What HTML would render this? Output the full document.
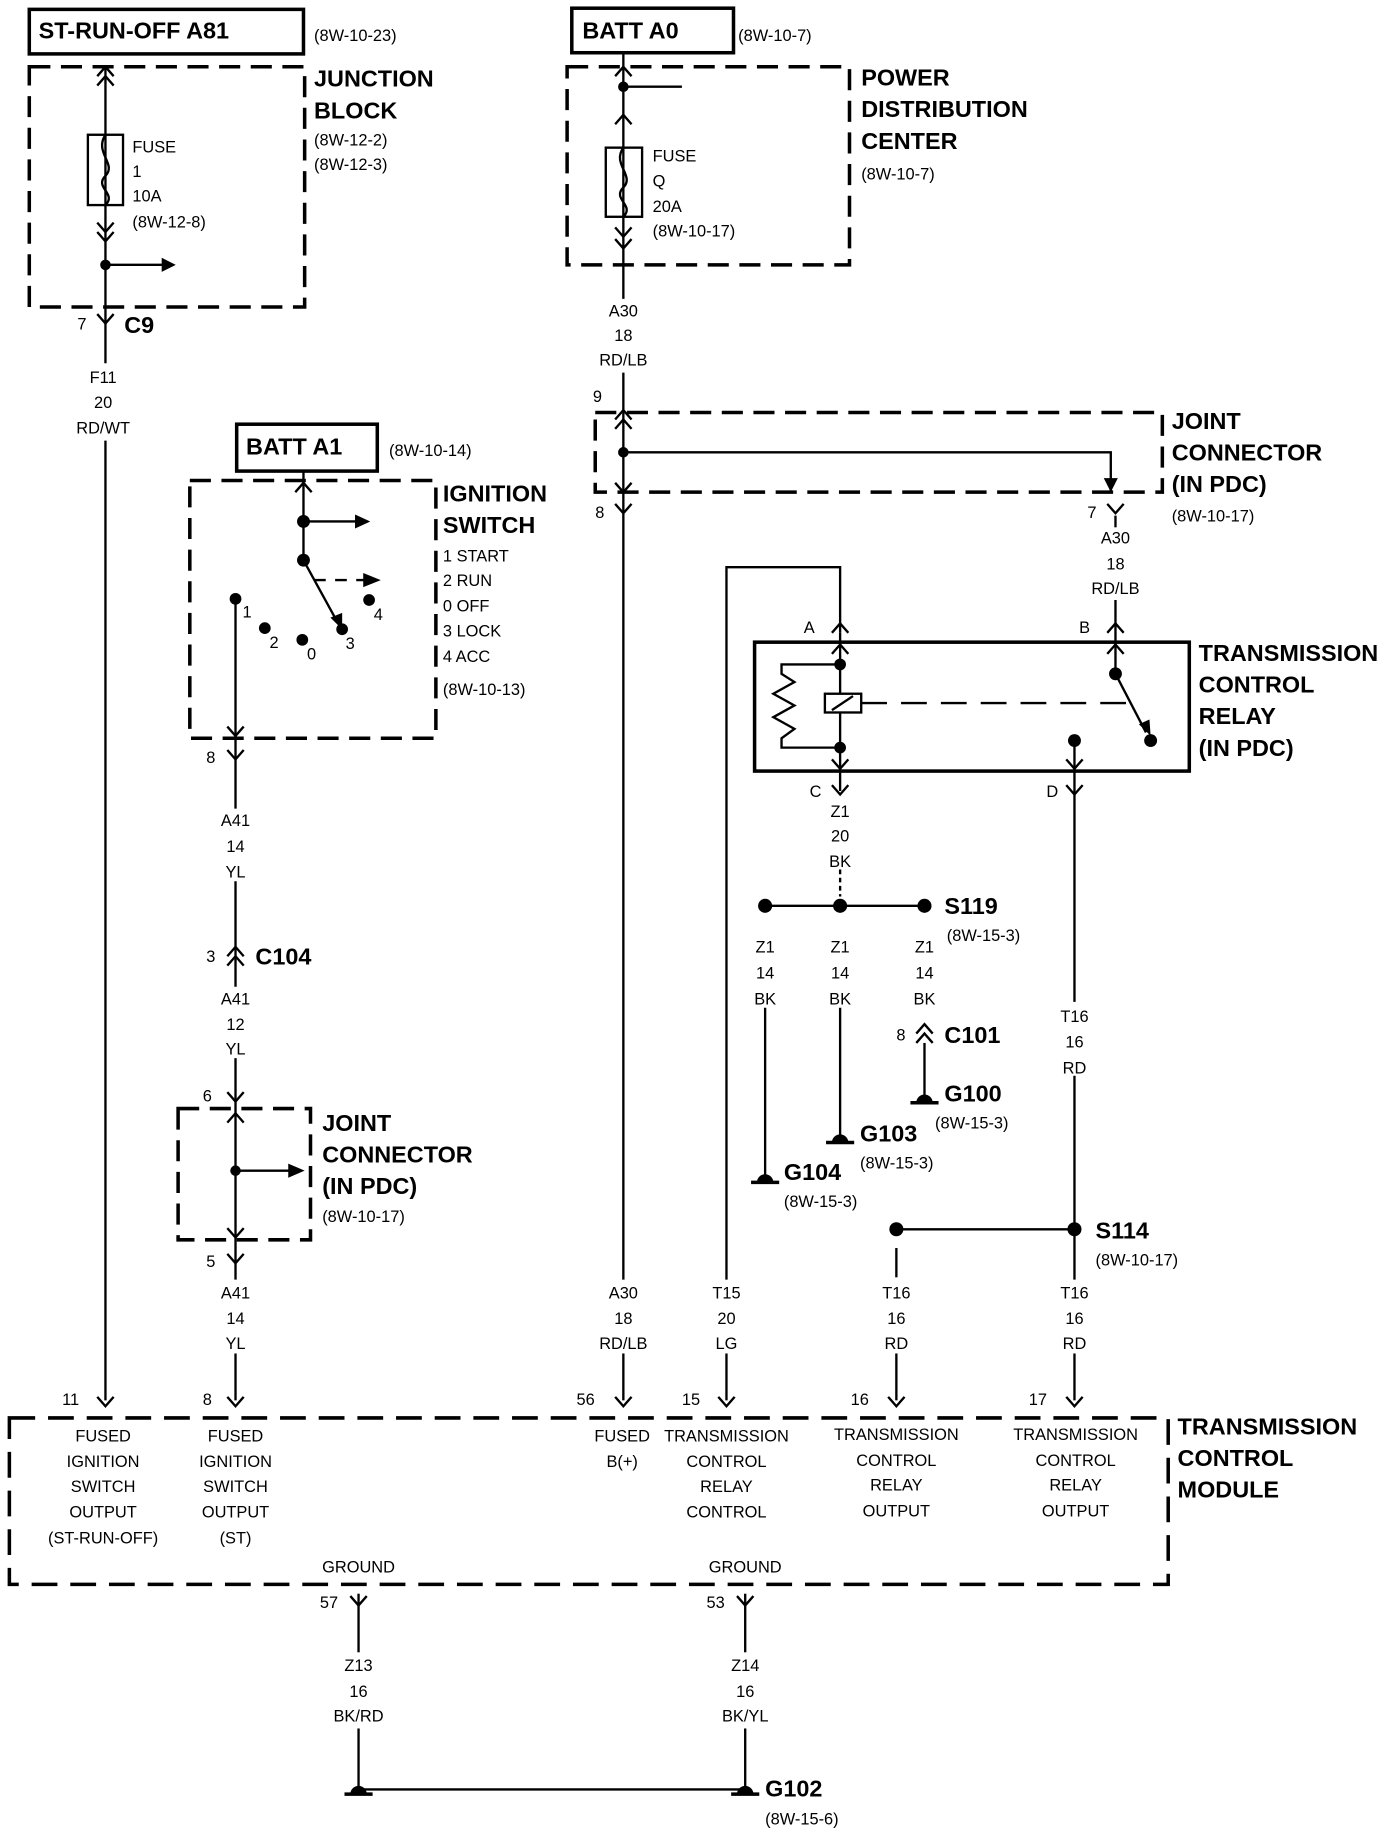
<!DOCTYPE html>
<html><head><meta charset="utf-8"><style>
html,body{margin:0;padding:0;background:#fff;width:1392px;height:1848px;overflow:hidden}
svg{display:block}
text{font-family:"Liberation Sans Narrow","Liberation Sans",sans-serif;fill:#000;font-size:14px}
.b{font-weight:bold;font-size:20px}
.c{text-anchor:middle}
</style></head><body>
<svg width="1392" height="1848" viewBox="0 0 1188 1577" preserveAspectRatio="none" xmlns="http://www.w3.org/2000/svg">
<defs>
<path id="fy" d="M-7,-8 L0,0 L7,-8" fill="none" stroke="#000" stroke-width="2"/>
<path id="mu" d="M-7,8 L0,0 L7,8" fill="none" stroke="#000" stroke-width="2"/>
<g id="gnd"><line x1="-12" y1="0" x2="12" y2="0" stroke="#000" stroke-width="3"/><path d="M-7,0 A7,7 0 0 1 7,0 Z" fill="#000"/></g>
</defs>
<g stroke="#000" stroke-width="2" fill="none">
<rect x="25" y="8" width="234" height="38" stroke-width="3"/>
<rect x="25" y="57" width="235" height="205" stroke-dasharray="18,9" stroke-width="3"/>
<line x1="90" y1="57" x2="90" y2="310"/>
<line x1="90" y1="376" x2="90" y2="1195"/>
<rect x="75" y="115" width="30" height="60"/>
<path d="M90,115 C80,130 100,140 90,150 C80,160 100,165 90,175"/>
<line x1="90" y1="226" x2="140" y2="226"/>
<rect x="488" y="7" width="138" height="38" stroke-width="3"/>
<rect x="484" y="57" width="241" height="169" stroke-dasharray="18,9" stroke-width="3"/>
<line x1="532" y1="45" x2="532" y2="255"/>
<line x1="532" y1="318" x2="532" y2="1092"/>
<line x1="532" y1="1155" x2="532" y2="1195"/>
<line x1="532" y1="74" x2="582" y2="74"/>
<rect x="517" y="126" width="31" height="59"/>
<path d="M532,126 C522,140 542,150 532,160 C522,170 542,175 532,185"/>
<rect x="508" y="352" width="484" height="68" stroke-dasharray="18,9" stroke-width="3"/>
<polyline points="532,386 948,386 948,420"/>
<line x1="952" y1="440" x2="952" y2="450"/>
<line x1="952" y1="512" x2="952" y2="575"/>
<rect x="644" y="548" width="371" height="110" stroke-width="3"/>
<line x1="717" y1="540" x2="717" y2="675"/>
<rect x="704" y="592" width="31" height="16" fill="#fff"/>
<line x1="710" y1="606" x2="728" y2="594"/>
<path d="M717,567 L667,567 L667,575 L678,582 L660,592 L678,602 L660,612 L678,622 L667,630 L667,638 L717,638"/>
<line x1="735" y1="600" x2="968" y2="600" stroke-dasharray="22,12"/>
<line x1="952" y1="575" x2="978" y2="625"/>
<line x1="917" y1="632" x2="917" y2="855"/>
<line x1="917" y1="918" x2="917" y2="1092"/>
<line x1="917" y1="1155" x2="917" y2="1195"/>
<polyline points="620,1092 620,484 717,484 717,540"/>
<line x1="620" y1="1155" x2="620" y2="1195"/>
<line x1="717" y1="742" x2="717" y2="765" stroke-dasharray="4,3"/>
<line x1="653" y1="773" x2="789" y2="773"/>
<line x1="653" y1="860" x2="653" y2="1003"/>
<line x1="717" y1="860" x2="717" y2="970"/>
<line x1="789" y1="890" x2="789" y2="935"/>
<line x1="765" y1="1049" x2="917" y2="1049"/>
<line x1="765" y1="1065" x2="765" y2="1090"/>
<line x1="765" y1="1155" x2="765" y2="1195"/>
<rect x="202" y="362" width="120" height="40" stroke-width="3"/>
<rect x="162" y="410" width="210" height="220" stroke-dasharray="18,9" stroke-width="3"/>
<line x1="259" y1="402" x2="259" y2="478"/>
<line x1="259" y1="445" x2="305" y2="445"/>
<line x1="259" y1="478" x2="288" y2="531"/>
<line x1="268" y1="495" x2="312" y2="495" stroke-dasharray="10,8"/>
<line x1="201" y1="511" x2="201" y2="690"/>
<line x1="201" y1="752" x2="201" y2="842"/>
<line x1="201" y1="903" x2="201" y2="1092"/>
<line x1="201" y1="1155" x2="201" y2="1195"/>
<rect x="152" y="946" width="113" height="112" stroke-dasharray="18,9" stroke-width="3"/>
<line x1="201" y1="999" x2="250" y2="999"/>
<rect x="8" y="1210" width="989" height="142" stroke-dasharray="22,11" stroke-width="3"/>
<line x1="306" y1="1360" x2="306" y2="1410"/>
<line x1="306" y1="1475" x2="306" y2="1527"/>
<line x1="636" y1="1360" x2="636" y2="1410"/>
<line x1="636" y1="1475" x2="636" y2="1527"/>
<line x1="306" y1="1527" x2="636" y2="1527"/>
</g>
<g fill="#000">
<circle cx="90" cy="226" r="4.5"/><polygon points="138,220 150,226 138,232"/>
<circle cx="532" cy="74" r="4.5"/>
<circle cx="532" cy="386" r="4.5"/><polygon points="942,408 948,420 954,408"/>
<circle cx="717" cy="567" r="5"/><circle cx="717" cy="638" r="5"/>
<circle cx="952" cy="575" r="5.5"/><circle cx="982" cy="632" r="5.5"/><circle cx="917" cy="632" r="5.5"/>
<polygon points="972,618 982,628 981,614"/>
<circle cx="653" cy="773" r="6"/><circle cx="717" cy="773" r="6"/><circle cx="789" cy="773" r="6"/>
<circle cx="917" cy="1049" r="6"/><circle cx="765" cy="1049" r="6"/>
<circle cx="259" cy="445" r="5.5"/><polygon points="303,439 316,445 303,451"/>
<circle cx="259" cy="478" r="5.5"/><polygon points="310,489 325,495 310,501"/>
<polygon points="282,527 292,537 292,523"/>
<circle cx="201" cy="511" r="5"/><circle cx="226" cy="536" r="5"/><circle cx="258" cy="546" r="5"/><circle cx="292" cy="537" r="5"/><circle cx="315" cy="512" r="5"/>
<circle cx="201" cy="999" r="4.5"/><polygon points="246,993 260,999 246,1005"/>
</g>
<use href="#mu" x="90" y="57"/><use href="#mu" x="90" y="65"/><use href="#fy" x="90" y="198"/><use href="#fy" x="90" y="206"/>
<use href="#fy" x="90" y="276"/>
<use href="#mu" x="532" y="57"/><use href="#mu" x="532" y="98"/><use href="#fy" x="532" y="202"/><use href="#fy" x="532" y="212"/>
<use href="#mu" x="532" y="350"/><use href="#mu" x="532" y="358"/><use href="#fy" x="532" y="420"/><use href="#fy" x="532" y="438"/>
<use href="#fy" x="952" y="438"/>
<use href="#mu" x="717" y="532"/><use href="#mu" x="717" y="550"/><use href="#mu" x="952" y="532"/><use href="#mu" x="952" y="550"/>
<use href="#fy" x="717" y="656"/><use href="#fy" x="717" y="678"/><use href="#fy" x="917" y="656"/><use href="#fy" x="917" y="678"/>
<use href="#mu" x="789" y="874"/><use href="#mu" x="789" y="882"/>
<use href="#mu" x="259" y="412"/><use href="#fy" x="201" y="628"/><use href="#fy" x="201" y="648"/>
<use href="#mu" x="201" y="808"/><use href="#mu" x="201" y="816"/>
<use href="#fy" x="201" y="940"/><use href="#mu" x="201" y="950"/><use href="#fy" x="201" y="1056"/><use href="#fy" x="201" y="1078"/>
<use href="#fy" x="90" y="1200"/><use href="#fy" x="201" y="1200"/><use href="#fy" x="532" y="1200"/><use href="#fy" x="620" y="1200"/><use href="#fy" x="765" y="1200"/><use href="#fy" x="917" y="1200"/>
<use href="#fy" x="306" y="1370"/><use href="#fy" x="636" y="1370"/>
<use href="#gnd" x="789" y="941"/><use href="#gnd" x="717" y="975"/><use href="#gnd" x="653" y="1009"/><use href="#gnd" x="306" y="1531"/><use href="#gnd" x="636" y="1531"/>
<text class="b" x="33" y="33">ST-RUN-OFF A81</text><text x="268" y="35">(8W-10-23)</text>
<text class="b" x="268" y="74">JUNCTION</text><text class="b" x="268" y="101">BLOCK</text>
<text x="268" y="124">(8W-12-2)</text><text x="268" y="145">(8W-12-3)</text>
<text x="113" y="130">FUSE</text><text x="113" y="151">1</text><text x="113" y="172">10A</text><text x="113" y="194">(8W-12-8)</text>
<text x="66" y="281">7</text><text class="b" x="106" y="284">C9</text>
<text class="c" x="88" y="327">F11</text><text class="c" x="88" y="348">20</text><text class="c" x="88" y="370">RD/WT</text>
<text class="b" x="497" y="33">BATT A0</text><text x="630" y="35">(8W-10-7)</text>
<text class="b" x="735" y="73">POWER</text><text class="b" x="735" y="100">DISTRIBUTION</text><text class="b" x="735" y="127">CENTER</text><text x="735" y="153">(8W-10-7)</text>
<text x="557" y="138">FUSE</text><text x="557" y="159">Q</text><text x="557" y="181">20A</text><text x="557" y="202">(8W-10-17)</text>
<text class="c" x="532" y="270">A30</text><text class="c" x="532" y="291">18</text><text class="c" x="532" y="312">RD/LB</text>
<text x="506" y="343">9</text><text x="508" y="442">8</text><text x="928" y="442">7</text>
<text class="b" x="1000" y="366">JOINT</text><text class="b" x="1000" y="393">CONNECTOR</text><text class="b" x="1000" y="420">(IN PDC)</text><text x="1000" y="445">(8W-10-17)</text>
<text class="c" x="952" y="464">A30</text><text class="c" x="952" y="486">18</text><text class="c" x="952" y="507">RD/LB</text>
<text x="686" y="540">A</text><text x="921" y="540">B</text><text x="691" y="680">C</text><text x="893" y="680">D</text>
<text class="b" x="1023" y="564">TRANSMISSION</text><text class="b" x="1023" y="591">CONTROL</text><text class="b" x="1023" y="618">RELAY</text><text class="b" x="1023" y="645">(IN PDC)</text>
<text class="c" x="717" y="697">Z1</text><text class="c" x="717" y="718">20</text><text class="c" x="717" y="740">BK</text>
<text class="b" x="806" y="780">S119</text><text x="808" y="803">(8W-15-3)</text>
<text class="c" x="653" y="813">Z1</text><text class="c" x="653" y="835">14</text><text class="c" x="653" y="857">BK</text>
<text class="c" x="717" y="813">Z1</text><text class="c" x="717" y="835">14</text><text class="c" x="717" y="857">BK</text>
<text class="c" x="789" y="813">Z1</text><text class="c" x="789" y="835">14</text><text class="c" x="789" y="857">BK</text>
<text x="765" y="888">8</text><text class="b" x="806" y="890">C101</text>
<text class="b" x="806" y="940">G100</text><text x="798" y="963">(8W-15-3)</text>
<text class="b" x="734" y="974">G103</text><text x="734" y="997">(8W-15-3)</text>
<text class="b" x="669" y="1007">G104</text><text x="669" y="1030">(8W-15-3)</text>
<text class="c" x="917" y="872">T16</text><text class="c" x="917" y="894">16</text><text class="c" x="917" y="916">RD</text>
<text class="b" x="935" y="1057">S114</text><text x="935" y="1080">(8W-10-17)</text>
<text class="b" x="210" y="388">BATT A1</text><text x="332" y="389">(8W-10-14)</text>
<text class="b" x="378" y="428">IGNITION</text><text class="b" x="378" y="455">SWITCH</text>
<text x="378" y="479">1 START</text><text x="378" y="500">2 RUN</text><text x="378" y="522">0 OFF</text><text x="378" y="543">3 LOCK</text><text x="378" y="565">4 ACC</text><text x="378" y="593">(8W-10-13)</text>
<text x="207" y="527">1</text><text x="230" y="553">2</text><text x="262" y="563">0</text><text x="295" y="554">3</text><text x="319" y="529">4</text>
<text x="176" y="651">8</text>
<text class="c" x="201" y="705">A41</text><text class="c" x="201" y="727">14</text><text class="c" x="201" y="749">YL</text>
<text x="176" y="821">3</text><text class="b" x="218" y="823">C104</text>
<text class="c" x="201" y="857">A41</text><text class="c" x="201" y="879">12</text><text class="c" x="201" y="900">YL</text>
<text x="173" y="940">6</text><text x="176" y="1081">5</text>
<text class="b" x="275" y="965">JOINT</text><text class="b" x="275" y="992">CONNECTOR</text><text class="b" x="275" y="1019">(IN PDC)</text><text x="275" y="1043">(8W-10-17)</text>
<text class="c" x="201" y="1108">A41</text><text class="c" x="201" y="1130">14</text><text class="c" x="201" y="1151">YL</text>
<text class="c" x="532" y="1108">A30</text><text class="c" x="532" y="1130">18</text><text class="c" x="532" y="1151">RD/LB</text>
<text class="c" x="620" y="1108">T15</text><text class="c" x="620" y="1130">20</text><text class="c" x="620" y="1151">LG</text>
<text class="c" x="765" y="1108">T16</text><text class="c" x="765" y="1130">16</text><text class="c" x="765" y="1151">RD</text>
<text class="c" x="917" y="1108">T16</text><text class="c" x="917" y="1130">16</text><text class="c" x="917" y="1151">RD</text>
<text x="53" y="1199">11</text><text x="173" y="1199">8</text><text x="492" y="1199">56</text><text x="582" y="1199">15</text><text x="726" y="1199">16</text><text x="878" y="1199">17</text>
<text class="c" x="88" y="1230">FUSED</text><text class="c" x="88" y="1252">IGNITION</text><text class="c" x="88" y="1273">SWITCH</text><text class="c" x="88" y="1295">OUTPUT</text><text class="c" x="88" y="1317">(ST-RUN-OFF)</text>
<text class="c" x="201" y="1230">FUSED</text><text class="c" x="201" y="1252">IGNITION</text><text class="c" x="201" y="1273">SWITCH</text><text class="c" x="201" y="1295">OUTPUT</text><text class="c" x="201" y="1317">(ST)</text>
<text class="c" x="531" y="1230">FUSED</text><text class="c" x="531" y="1252">B(+)</text>
<text class="c" x="620" y="1230">TRANSMISSION</text><text class="c" x="620" y="1252">CONTROL</text><text class="c" x="620" y="1273">RELAY</text><text class="c" x="620" y="1295">CONTROL</text>
<text class="c" x="765" y="1229">TRANSMISSION</text><text class="c" x="765" y="1251">CONTROL</text><text class="c" x="765" y="1272">RELAY</text><text class="c" x="765" y="1294">OUTPUT</text>
<text class="c" x="918" y="1229">TRANSMISSION</text><text class="c" x="918" y="1251">CONTROL</text><text class="c" x="918" y="1272">RELAY</text><text class="c" x="918" y="1294">OUTPUT</text>
<text class="c" x="306" y="1342">GROUND</text><text class="c" x="636" y="1342">GROUND</text>
<text class="b" x="1005" y="1224">TRANSMISSION</text><text class="b" x="1005" y="1251">CONTROL</text><text class="b" x="1005" y="1278">MODULE</text>
<text x="273" y="1372">57</text><text x="603" y="1372">53</text>
<text class="c" x="306" y="1426">Z13</text><text class="c" x="306" y="1448">16</text><text class="c" x="306" y="1469">BK/RD</text>
<text class="c" x="636" y="1426">Z14</text><text class="c" x="636" y="1448">16</text><text class="c" x="636" y="1469">BK/YL</text>
<text class="b" x="653" y="1533">G102</text><text x="653" y="1557">(8W-15-6)</text>
</svg>
</body></html>
